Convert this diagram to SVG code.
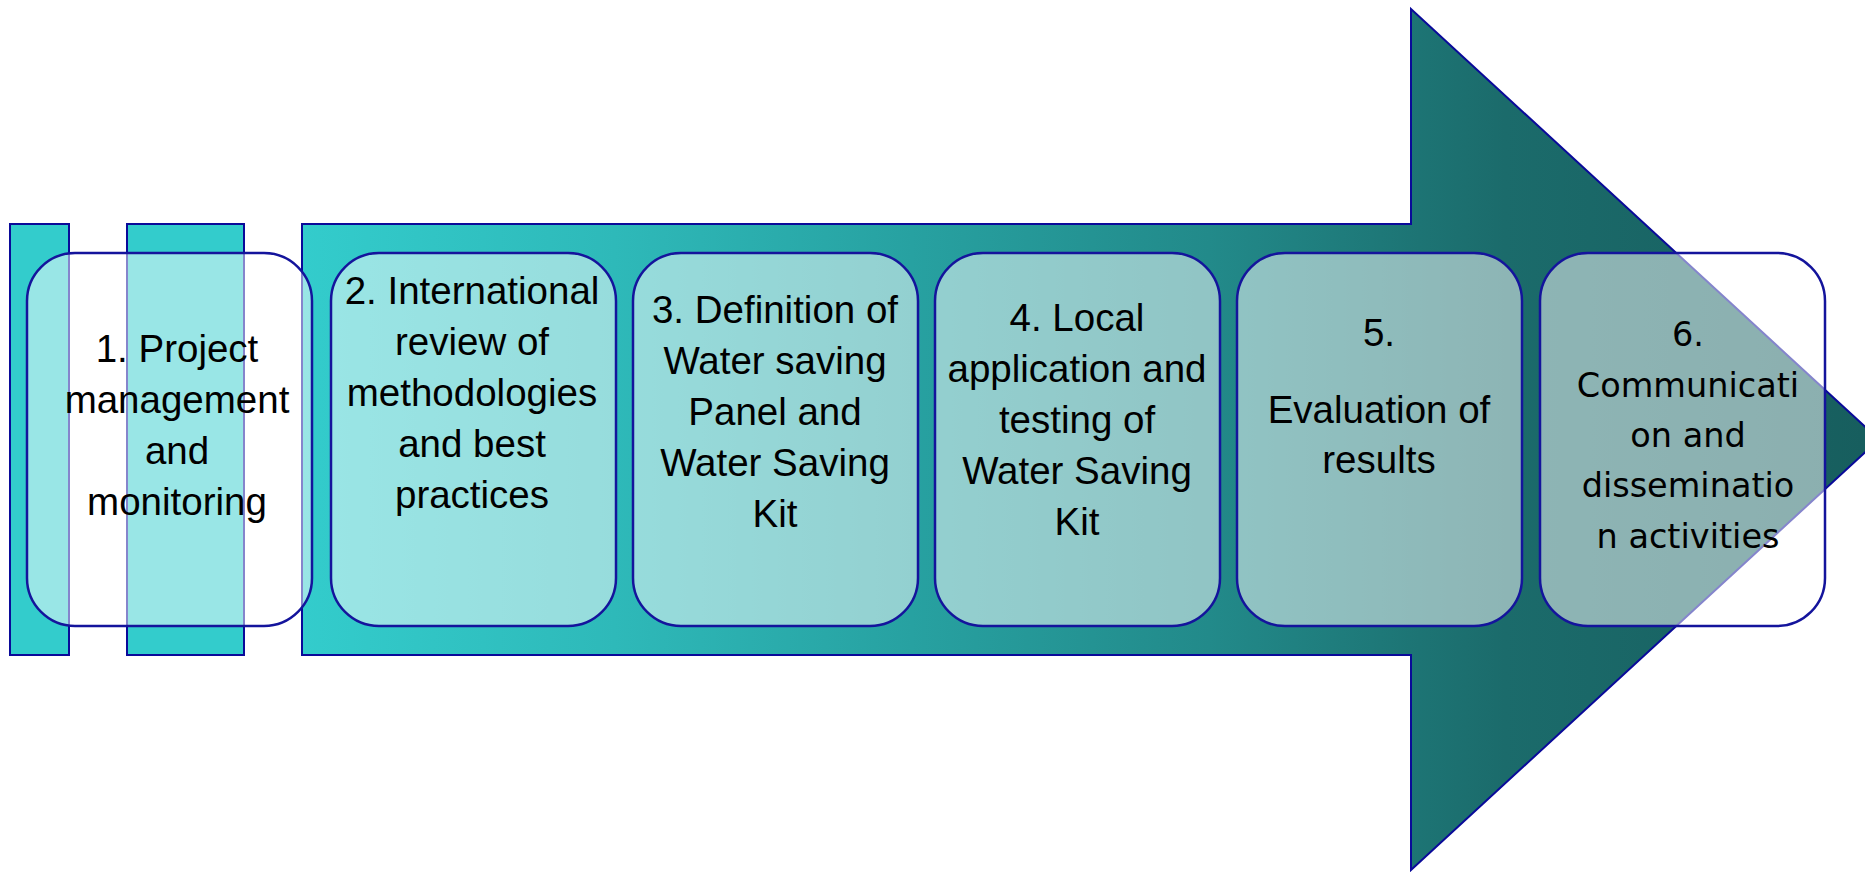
<svg xmlns="http://www.w3.org/2000/svg" width="1865" height="872" viewBox="0 0 1865 872">
  <defs>
    <linearGradient id="arrowGrad" gradientUnits="userSpaceOnUse" x1="302" y1="0" x2="1865" y2="0">
      <stop offset="0" stop-color="#33CCCC"/>
      <stop offset="0.2" stop-color="#2EB9B9"/>
      <stop offset="0.39" stop-color="#27A1A1"/>
      <stop offset="0.58" stop-color="#228A8A"/>
      <stop offset="0.77" stop-color="#1B6B6B"/>
      <stop offset="1" stop-color="#175E5E"/>
    </linearGradient>
  </defs>
  <style>
    .bar { fill: #33CCCC; stroke: #0A0A99; stroke-width: 2; }
    .arrow { fill: url(#arrowGrad); stroke: #0A0A99; stroke-width: 2; stroke-linejoin: miter; }
    .box { fill: #FFFFFF; fill-opacity: 0.5; stroke: #14149C; stroke-width: 2.5; }
    .lbl { font-family: "Liberation Sans", Arial, sans-serif; font-size: 38.5px; fill: #000000; text-anchor: middle; }
    .lbl6 { font-family: "DejaVu Sans", Verdana, sans-serif; font-size: 33.5px; fill: #000000; text-anchor: middle; }
  </style>
  <rect width="1865" height="872" fill="#FFFFFF"/>

  <g id="background">
    <rect class="bar" x="10" y="224" width="59" height="431"/>
    <rect class="bar" x="127" y="224" width="117" height="431"/>
    <polygon class="arrow" points="302,224 1411,224 1411,9 1879,439.5 1411,870 1411,655 302,655"/>
  </g>

  <g id="connectors"></g>

  <g id="node1">
    <rect class="box" x="27" y="253" width="285" height="373" rx="48" ry="48"/>
    <text class="lbl" x="177" y="362">1. Project</text>
    <text class="lbl" x="177" y="413">management</text>
    <text class="lbl" x="177" y="464">and</text>
    <text class="lbl" x="177" y="515">monitoring</text>
  </g>

  <g id="node2">
    <rect class="box" x="331" y="253" width="285" height="373" rx="48" ry="48"/>
    <text class="lbl" x="472" y="304">2. International</text>
    <text class="lbl" x="472" y="355">review of</text>
    <text class="lbl" x="472" y="406">methodologies</text>
    <text class="lbl" x="472" y="457">and best</text>
    <text class="lbl" x="472" y="508">practices</text>
  </g>

  <g id="node3">
    <rect class="box" x="633" y="253" width="285" height="373" rx="48" ry="48"/>
    <text class="lbl" x="775" y="323">3. Definition of</text>
    <text class="lbl" x="775" y="374">Water saving</text>
    <text class="lbl" x="775" y="425">Panel and</text>
    <text class="lbl" x="775" y="476">Water Saving</text>
    <text class="lbl" x="775" y="527">Kit</text>
  </g>

  <g id="node4">
    <rect class="box" x="935" y="253" width="285" height="373" rx="48" ry="48"/>
    <text class="lbl" x="1077" y="331">4. Local</text>
    <text class="lbl" x="1077" y="382">application and</text>
    <text class="lbl" x="1077" y="433">testing of</text>
    <text class="lbl" x="1077" y="484">Water Saving</text>
    <text class="lbl" x="1077" y="535">Kit</text>
  </g>

  <g id="node5">
    <rect class="box" x="1237" y="253" width="285" height="373" rx="48" ry="48"/>
    <text class="lbl" x="1379" y="346">5.</text>
    <text class="lbl" x="1379" y="423">Evaluation of</text>
    <text class="lbl" x="1379" y="473">results</text>
  </g>

  <g id="node6">
    <rect class="box" x="1540" y="253" width="285" height="373" rx="48" ry="48"/>
    <text class="lbl6" x="1688" y="346">6.</text>
    <text class="lbl6" x="1688" y="397">Communicati</text>
    <text class="lbl6" x="1688" y="447">on and</text>
    <text class="lbl6" x="1688" y="497">disseminatio</text>
    <text class="lbl6" x="1688" y="548">n activities</text>
  </g>
</svg>
